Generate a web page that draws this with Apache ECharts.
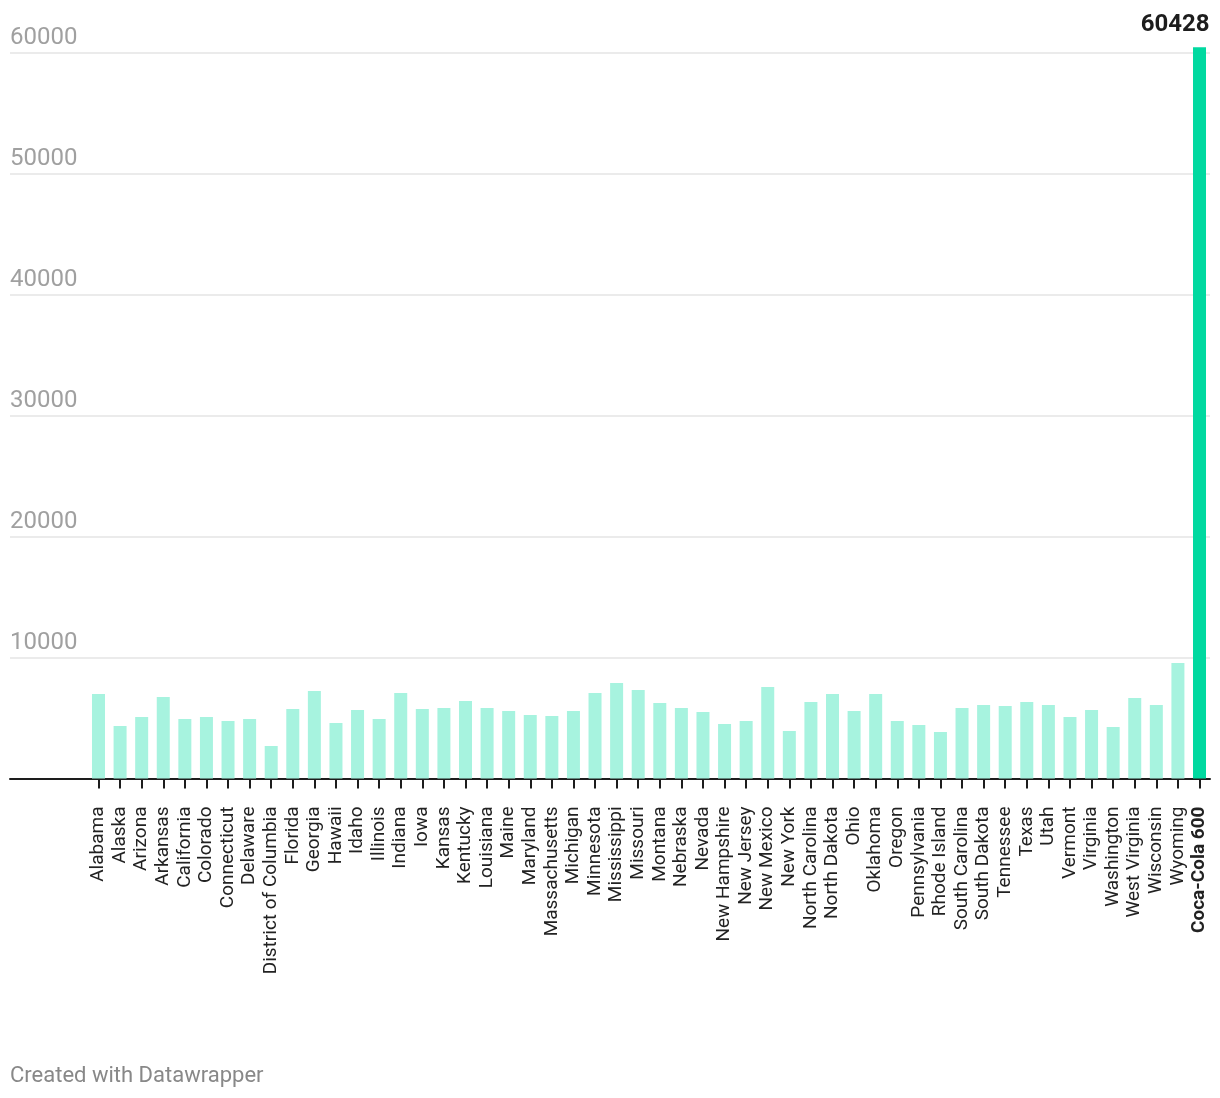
<!DOCTYPE html>
<html>
<head>
<meta charset="utf-8">
<script src="https://cdn.jsdelivr.net/npm/echarts@6/dist/echarts.min.js"></script>
<style>
  html, body { margin: 0; padding: 0; background: #fff; }
  #chart { width: 1220px; height: 1098px; }
</style>
</head>
<body>
<div id="chart"></div>
<script>
const categories = ['Alabama','Alaska','Arizona','Arkansas','California','Colorado','Connecticut','Delaware','District of Columbia','Florida','Georgia','Hawaii','Idaho','Illinois','Indiana','Iowa','Kansas','Kentucky','Louisiana','Maine','Maryland','Massachusetts','Michigan','Minnesota','Mississippi','Missouri','Montana','Nebraska','Nevada','New Hampshire','New Jersey','New Mexico','New York','North Carolina','North Dakota','Ohio','Oklahoma','Oregon','Pennsylvania','Rhode Island','South Carolina','South Dakota','Tennessee','Texas','Utah','Vermont','Virginia','Washington','West Virginia','Wisconsin','Wyoming','Coca-Cola 600'];
const values = [6983,4339,5082,6735,4917,5082,4752,4917,2686,5744,7231,4587,5661,4917,7066,5744,5826,6405,5826,5578,5248,5165,5578,7066,7892,7314,6239,5826,5496,4504,4752,7562,3926,6322,6983,5578,6983,4752,4421,3843,5826,6074,5991,6322,6074,5082,5661,4256,6652,6074,9545,60428];
const highlight = 'Coca-Cola 600';
const yTicks = [0,10000,20000,30000,40000,50000,60000];

const chart = echarts.init(document.getElementById('chart'));
const FONT = 'Roboto, "Noto Sans", sans-serif';
const TOP = 52.5, BOTTOM = 319.5;

chart.setOption({
  animation: false,
  textStyle: { fontFamily: FONT },
  title: {
    text: 'Created with Datawrapper',
    left: 10, top: 1065, padding: 0,
    textStyle: { fontFamily: FONT, fontSize: 22, fontWeight: 'normal', color: '#888888' }
  },
  grid: [
    { left: 10, right: 10, top: TOP, bottom: BOTTOM },
    { left: 87.7, right: 9.7, top: TOP, bottom: BOTTOM }
  ],
  xAxis: [
    {
      gridIndex: 0, type: 'value', min: 0, max: 1,
      axisLine: { show: true, lineStyle: { color: '#1d1d1d', width: 2 } },
      axisTick: { show: false }, axisLabel: { show: false }, splitLine: { show: false }
    },
    {
      gridIndex: 1, type: 'category', data: categories,
      axisLine: { show: false },
      axisTick: { show: true, alignWithLabel: true, length: 10, lineStyle: { color: '#1d1d1d', width: 2 } },
      axisLabel: {
        interval: 0, rotate: 90, margin: 28, fontSize: 19, color: '#222222', fontFamily: FONT,
        formatter: v => v === highlight ? '{b|' + v + '}' : v,
        rich: { b: { fontWeight: 'bold', fontSize: 19, color: '#222222', fontFamily: FONT } }
      }
    }
  ],
  yAxis: [
    {
      gridIndex: 0, type: 'value', min: yTicks[0], max: yTicks[yTicks.length - 1], interval: 10000,
      axisLine: { show: false }, axisTick: { show: false },
      splitLine: { show: true, lineStyle: { color: '#e5e5e5', width: 1.5 } },
      axisLabel: {
        inside: true, margin: 0, verticalAlign: 'bottom', padding: [0, 0, 3, 0],
        fontSize: 24, color: '#a0a0a0', fontFamily: FONT,
        formatter: v => v === 0 ? '' : String(v)
      }
    },
    {
      gridIndex: 1, type: 'value', min: yTicks[0], max: yTicks[yTicks.length - 1], interval: 10000,
      show: false, splitLine: { show: false }
    }
  ],
  series: [{
    type: 'bar', xAxisIndex: 1, yAxisIndex: 1, barWidth: 13, clip: false, z: 1,
    data: values.map((v, i) => {
      const isH = categories[i] === highlight;
      return {
        value: v,
        itemStyle: { color: isH ? '#00d9a0' : '#a7f3df' },
        label: isH ? {
          show: true, position: 'top', align: 'right', offset: [10, -5],
          formatter: p => String(p.value),
          fontSize: 24, fontWeight: 'bold', color: '#1d1d1d', fontFamily: FONT
        } : { show: false }
      };
    })
  }]
});
</script>
</body>
</html>
